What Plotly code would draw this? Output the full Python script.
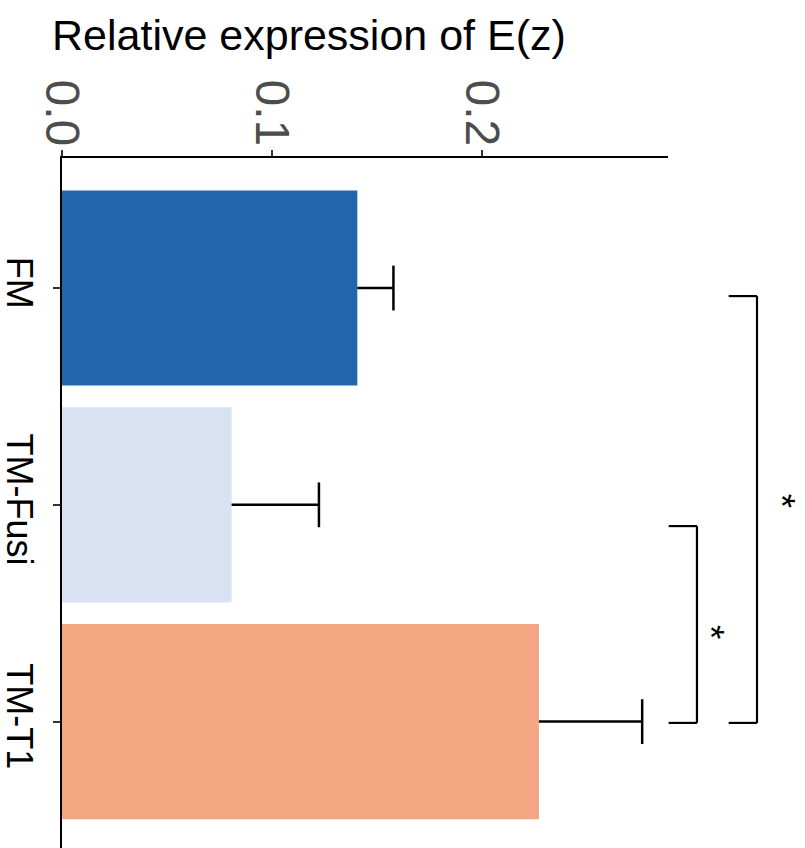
import plotly.graph_objects as go

# ---- data ----
categories = ["FM", "TM-Fusi", "TM-T1"]
values = [0.1407, 0.0808, 0.2272]
errors = [0.0172, 0.0416, 0.0492]
bar_colors = ["#2166AC", "#D8E2F3", "#F4A582"]
x_tickvals = [0.0, 0.1, 0.2]
x_ticktext = ["0.0", "0.1", "0.2"]
axis_title = "Relative expression of E(z)"

# significance brackets: (from category index, to category index, level on value axis, label)
bracket_from = [1.098, 0.037]
bracket_to = [2.006, 2.006]
bracket_level = [0.3025, 0.3311]
bracket_label = ["*", "*"]
star_level = [0.3092, 0.3426]
star_pos = [1.587, 0.982]

# ---- axes ranges ----
x_max = 0.2887
y_top, y_bot = -0.6, 2.583

def xp(v):
    return v / x_max

def yp(c):
    return (y_bot - c) / (y_bot - y_top)

fig = go.Figure()
fig.add_trace(go.Bar(
    x=values, y=categories, orientation="h",
    marker=dict(color=bar_colors, line=dict(width=0)),
    width=0.9,
    error_x=dict(type="data", symmetric=False, array=errors, arrayminus=[0] * len(errors),
                 color="black", thickness=2.5, width=0),
    showlegend=False, hoverinfo="skip",
))
# caps at the end of each error bar
fig.add_trace(go.Scatter(
    x=[v + e for v, e in zip(values, errors)], y=categories, mode="markers",
    marker=dict(symbol="line-ns", size=32, color="black", line=dict(width=2.5, color="black")),
    showlegend=False, hoverinfo="skip",
))

shapes = []
annotations = []
tick_len = 0.0135
for f, t, lvl, lab, sl, sp in zip(bracket_from, bracket_to, bracket_level, bracket_label,
                                  star_level, star_pos):
    line = dict(color="black", width=2.2)
    shapes.append(dict(type="line", xref="paper", yref="paper",
                       x0=xp(lvl), x1=xp(lvl), y0=yp(f), y1=yp(t), line=line))
    shapes.append(dict(type="line", xref="paper", yref="paper",
                       x0=xp(lvl - tick_len), x1=xp(lvl), y0=yp(f), y1=yp(f), line=line))
    shapes.append(dict(type="line", xref="paper", yref="paper",
                       x0=xp(lvl - tick_len), x1=xp(lvl), y0=yp(t), y1=yp(t), line=line))
    annotations.append(dict(text=lab, xref="paper", yref="paper",
                            x=xp(sl), y=yp(sp),
                            showarrow=False, textangle=90,
                            font=dict(size=37, color="black", family="Liberation Sans, Arial"),
                            xanchor="center", yanchor="middle"))

annotations.append(dict(text=axis_title, xref="paper", yref="paper",
                        x=-0.020, y=1.178, xanchor="left", yanchor="middle",
                        showarrow=False,
                        font=dict(size=43, color="black", family="Liberation Sans, Arial")))

fig.update_layout(
    width=805, height=848,
    margin=dict(l=62, r=137, t=158, b=0, pad=0),
    paper_bgcolor="white", plot_bgcolor="white",
    font=dict(family="Liberation Sans, Arial", color="black"),
    shapes=shapes, annotations=annotations,
    bargap=0.1,
)
fig.update_xaxes(
    side="top", range=[0, x_max], tickvals=x_tickvals, ticktext=x_ticktext,
    tickangle=90, tickfont=dict(size=48, color="#4D4D4D"),
    showline=True, linecolor="black", linewidth=2,
    ticks="outside", ticklen=6, tickwidth=2, tickcolor="#333333",
    showgrid=False, zeroline=False, automargin=False, ticklabelstandoff=-13,
)
fig.update_yaxes(
    categoryorder="array", categoryarray=categories,
    range=[y_bot, y_top], tickangle=90, tickfont=dict(size=36, color="black"),
    showline=True, linecolor="black", linewidth=2,
    ticks="outside", ticklen=7, tickwidth=2, tickcolor="#333333",
    showgrid=False, zeroline=False, ticklabelstandoff=3, automargin=False,
)

fig.write_html("out.html")
